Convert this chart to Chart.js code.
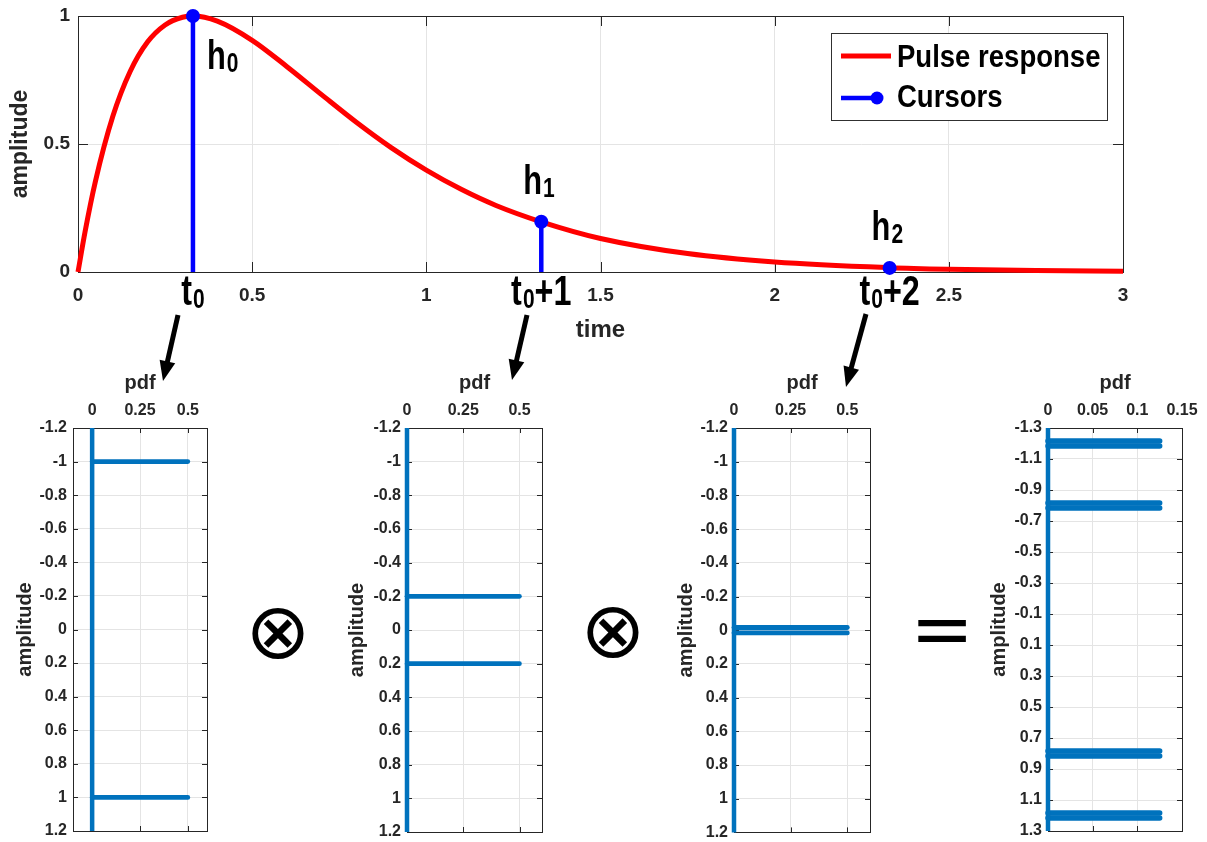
<!DOCTYPE html>
<html><head><meta charset="utf-8">
<script src="https://cdn.jsdelivr.net/npm/chart.js@4.4.0/dist/chart.umd.min.js"></script>
<style>
html,body{margin:0;padding:0;background:#fff;width:1207px;height:842px;overflow:hidden;position:relative;}
canvas{position:absolute;}
.sym{position:absolute;font-family:"DejaVu Sans",sans-serif;color:#000;line-height:1;transform:translate(-50%,-50%);white-space:nowrap;}
svg{position:absolute;left:0;top:0;}
</style></head><body>
<canvas id="topChart" width="1207" height="345" style="left:0;top:0"></canvas>
<canvas id="pdf1" width="225" height="472" style="left:12px;top:370px"></canvas>
<canvas id="pdf2" width="228" height="472" style="left:344px;top:370px"></canvas>
<canvas id="pdf3" width="227" height="472" style="left:673px;top:370px"></canvas>
<canvas id="pdf4" width="221" height="472" style="left:986px;top:370px"></canvas>
<div class="sym" style="left:278px;top:631px;font-size:78px">⊗</div>
<div class="sym" style="left:613px;top:630px;font-size:78px">⊗</div>
<div class="sym" style="left:942px;top:629px;font-size:76px">=</div>
<svg id="arrows" width="1207" height="842"></svg>
<script>
// ---------------- data ----------------
const timeValues  = [0, 0.02, 0.05, 0.1, 0.15, 0.2, 0.25, 0.3, 0.33, 0.4, 0.5, 0.6, 0.7, 0.8, 0.9, 1.0, 1.1, 1.2, 1.33, 1.5, 1.75, 2.0, 2.33, 2.5, 2.75, 3.0];
const pulseValues = [0, 0.155, 0.354, 0.608, 0.784, 0.899, 0.965, 0.995, 1.0, 0.980, 0.905, 0.802, 0.692, 0.584, 0.485, 0.398, 0.323, 0.260, 0.196, 0.131, 0.072, 0.039, 0.017, 0.011, 0.006, 0.003];
const cursorTimes  = [0.33, 1.33, 2.33];
const cursorValues = [1.0, 0.196, 0.016];
const cursorSubs   = ['0', '1', '2'];
const cursorTimeSuffix = ['', '+1', '+2'];
const seriesNames = ['Pulse response', 'Cursors'];

const topXTicks = [0, 0.5, 1, 1.5, 2, 2.5, 3];
const topXLabels = ['0', '0.5', '1', '1.5', '2', '2.5', '3'];
const topYTicks = [0, 0.5, 1];
const topYLabels = ['0', '0.5', '1'];

const pdfAmp1 = [-1, 1];           const pdfProb1 = [0.5, 0.5];
const pdfAmp2 = [-0.2, 0.2];       const pdfProb2 = [0.5, 0.5];
const pdfAmp3 = [-0.016, 0.016];   const pdfProb3 = [0.5, 0.5];
const pdfAmp4 = [-1.216, -1.184, -0.816, -0.784, 0.784, 0.816, 1.184, 1.216];
const pdfProb4 = [0.125, 0.125, 0.125, 0.125, 0.125, 0.125, 0.125, 0.125];

const ampTicksA = [-1.2, -1, -0.8, -0.6, -0.4, -0.2, 0, 0.2, 0.4, 0.6, 0.8, 1, 1.2];
const ampLabelsA = ['-1.2', '-1', '-0.8', '-0.6', '-0.4', '-0.2', '0', '0.2', '0.4', '0.6', '0.8', '1', '1.2'];
const ampTicksB = [-1.3, -1.1, -0.9, -0.7, -0.5, -0.3, -0.1, 0.1, 0.3, 0.5, 0.7, 0.9, 1.1, 1.3];
const ampLabelsB = ['-1.3', '-1.1', '-0.9', '-0.7', '-0.5', '-0.3', '-0.1', '0.1', '0.3', '0.5', '0.7', '0.9', '1.1', '1.3'];
const pdfTicksA = [0, 0.25, 0.5];
const pdfLabelsA = ['0', '0.25', '0.5'];
const pdfTicksB = [0, 0.05, 0.1, 0.15];
const pdfLabelsB = ['0', '0.05', '0.1', '0.15'];

// ---------------- styling ----------------
const FONT = '"Liberation Sans", Arial, Helvetica, sans-serif';
Chart.defaults.font.family = FONT;
Chart.defaults.color = '#262626';
const AXC = '#262626', GRID = '#e4e4e4', PDFBLUE = '#0072BD', NONE = 'rgba(0,0,0,0)';

function condText(ctx, text, x, y, size, sx) {
  ctx.save();
  ctx.font = 'bold ' + size + 'px ' + FONT;
  ctx.textBaseline = 'alphabetic';
  ctx.textAlign = 'left';
  ctx.translate(x, y);
  ctx.scale(sx, 1);
  ctx.fillText(text, 0, 0);
  const w = ctx.measureText(text).width * sx;
  ctx.restore();
  return w;
}
function textW(ctx, text, size, sx) {
  ctx.save(); ctx.font = 'bold ' + size + 'px ' + FONT;
  const w = ctx.measureText(text).width * sx; ctx.restore(); return w;
}

const boxPlugin = {
  id: 'matlabBox',
  beforeDatasetsDraw(chart, args, opts) {
    const {ctx, chartArea: a, scales} = chart;
    const len = opts.len || 6;
    ctx.save();
    ctx.strokeStyle = AXC; ctx.lineWidth = 1;
    ctx.strokeRect(Math.round(a.left) + 0.5, Math.round(a.top) + 0.5, Math.round(a.right - a.left), Math.round(a.bottom - a.top));
    ctx.beginPath();
    scales.x.ticks.forEach(t => {
      const x = Math.round(scales.x.getPixelForValue(t.value)) + 0.5;
      ctx.moveTo(x, a.bottom); ctx.lineTo(x, a.bottom - len);
      ctx.moveTo(x, a.top); ctx.lineTo(x, a.top + len);
    });
    scales.y.ticks.forEach(t => {
      const y = Math.round(scales.y.getPixelForValue(t.value)) + 0.5;
      ctx.moveTo(a.left, y); ctx.lineTo(a.left + len, y);
      ctx.moveTo(a.right, y); ctx.lineTo(a.right - len, y);
    });
    ctx.stroke();
    ctx.restore();
  }
};

const annotPlugin = {
  id: 'annot',
  afterDraw(chart) {
    const {ctx, chartArea: a, scales} = chart;
    const xs = scales.x, ys = scales.y;
    ctx.save();
    ctx.fillStyle = '#000';
    cursorTimes.forEach((t, i) => {
      const px = xs.getPixelForValue(t), py = ys.getPixelForValue(cursorValues[i]);
      let lx, by;
      if (i === 0) { lx = px + 14; by = py + 53; } else { lx = px - 18; by = py - 28; }
      const w = condText(ctx, 'h', lx, by, 40, 0.77);
      condText(ctx, cursorSubs[i], lx + w + 1, by + 3, 28, 0.75);
      const w1 = textW(ctx, 't', 42, 0.77), w2 = textW(ctx, '0', 28, 0.75), w3 = textW(ctx, cursorTimeSuffix[i], 42, 0.77);
      const tot = w1 + 1 + w2 + w3;
      const sx = px - tot / 2;
      const tb = a.bottom + 33;
      condText(ctx, 't', sx, tb, 42, 0.77);
      condText(ctx, '0', sx + w1 + 1, tb + 3, 28, 0.75);
      if (cursorTimeSuffix[i]) condText(ctx, cursorTimeSuffix[i], sx + w1 + 1 + w2, tb, 42, 0.77);
    });
    // legend box
    const W = 276, H = 87;
    const L = Math.round(a.right) - 16 - W, T = Math.round(a.top) + 17;
    ctx.fillStyle = '#fff';
    ctx.fillRect(L, T, W, H);
    ctx.strokeStyle = '#303030'; ctx.lineWidth = 1;
    ctx.strokeRect(L + 0.5, T + 0.5, W, H);
    const ds = chart.data.datasets;
    ctx.lineCap = 'butt';
    ctx.strokeStyle = ds[0].borderColor; ctx.lineWidth = 5;
    ctx.beginPath(); ctx.moveTo(L + 10, T + 23); ctx.lineTo(L + 60, T + 23); ctx.stroke();
    ctx.fillStyle = '#000';
    condText(ctx, ds[0].label, L + 66, T + 34, 32, 0.86);
    ctx.strokeStyle = ds[1].borderColor; ctx.lineWidth = 4.5;
    ctx.beginPath(); ctx.moveTo(L + 10, T + 65); ctx.lineTo(L + 46, T + 65); ctx.stroke();
    ctx.fillStyle = ds[1].borderColor;
    ctx.beginPath(); ctx.arc(L + 46, T + 65, 6.5, 0, Math.PI * 2); ctx.fill();
    ctx.fillStyle = '#000';
    condText(ctx, ds[1].label, L + 66, T + 74, 32, 0.86);
    ctx.restore();
  }
};

// ---------------- top chart ----------------
const pulseData = timeValues.map((t, i) => ({x: t, y: pulseValues[i]}));
const cursorData = [];
cursorTimes.forEach((t, i) => {
  cursorData.push({x: t, y: 0}, {x: t, y: cursorValues[i]}, {x: t, y: null});
});

new Chart(document.getElementById('topChart'), {
  type: 'scatter',
  data: {
    datasets: [
      {label: seriesNames[0], data: pulseData, showLine: true, borderColor: '#ff0000', borderWidth: 5,
       pointRadius: 0, cubicInterpolationMode: 'monotone', order: 1, clip: false},
      {label: seriesNames[1], data: cursorData, showLine: true, borderColor: '#0000ff', backgroundColor: '#0000ff',
       borderWidth: 4.5, spanGaps: false, tension: 0, order: 0, clip: false,
       pointRadius: c => (c.dataIndex % 3 === 1 ? 7 : 0), pointBorderWidth: 0, pointBackgroundColor: '#0000ff'}
    ]
  },
  options: {
    responsive: false, animation: false, events: [],
    layout: {padding: {top: 16, right: 84, left: 0, bottom: 0}},
    plugins: {legend: {display: false}, tooltip: {enabled: false}, matlabBox: {len: 10}},
    scales: {
      x: {type: 'linear', min: 0, max: 3,
          afterBuildTicks: s => { s.ticks = topXTicks.map(v => ({value: v})); },
          afterFit: s => { s.height = 73; },
          ticks: {callback: (v, i) => topXLabels[i], font: {size: 19, weight: 'bold'}, color: AXC, padding: 0, autoSkip: false, maxRotation: 0},
          grid: {color: GRID, drawTicks: true, tickLength: 12, tickColor: NONE}, border: {display: false},
          title: {display: true, text: 'time', font: {size: 24, weight: 'bold'}, color: AXC, padding: {top: 1, bottom: 0}}},
      y: {type: 'linear', min: 0, max: 1,
          afterBuildTicks: s => { s.ticks = topYTicks.map(v => ({value: v})); },
          afterFit: s => { s.width = 78; },
          ticks: {callback: (v, i) => topYLabels[i], font: {size: 19, weight: 'bold'}, color: AXC, padding: 0, autoSkip: false},
          grid: {color: GRID, drawTicks: true, tickLength: 8, tickColor: NONE}, border: {display: false},
          title: {display: true, text: 'amplitude', font: {size: 23, weight: 'bold'}, color: AXC, padding: {top: 7, bottom: 0}}}
    }
  },
  plugins: [boxPlugin, annotPlugin]
});

// ---------------- pdf panels ----------------
function pdfChart(id, amps, probs, xt, xl, xmin, xmax, yt, yl, axisW, bottomPad, rightPad, lw) {
  const datasets = [{
    data: [{x: 0, y: yt[0]}, {x: 0, y: yt[yt.length - 1]}],
    showLine: true, borderColor: PDFBLUE, borderWidth: 4.5, pointRadius: 0, clip: false, borderCapStyle: 'butt'
  }];
  amps.forEach((a, i) => {
    datasets.push({data: [{x: 0, y: a}, {x: probs[i], y: a}], showLine: true, borderColor: PDFBLUE,
      borderWidth: lw, pointRadius: 0, clip: false, borderCapStyle: 'round'});
  });
  new Chart(document.getElementById(id), {
    type: 'scatter',
    data: {datasets},
    options: {
      responsive: false, animation: false, events: [],
      layout: {padding: {top: 0, right: rightPad, left: 0, bottom: bottomPad}},
      plugins: {legend: {display: false}, tooltip: {enabled: false}, matlabBox: {len: 5}},
      scales: {
        x: {type: 'linear', position: 'top', min: xmin, max: xmax,
            afterBuildTicks: s => { s.ticks = xt.map(v => ({value: v})); },
            afterFit: s => { s.height = 58; },
            ticks: {callback: (v, i) => xl[i], font: {size: 16, weight: 'bold'}, color: AXC, padding: 0, autoSkip: false, maxRotation: 0},
            grid: {color: GRID, drawTicks: true, tickLength: 8, tickColor: NONE}, border: {display: false},
            title: {display: true, text: 'pdf', font: {size: 20, weight: 'bold'}, color: AXC, padding: {top: 1, bottom: 0}}},
        y: {type: 'linear', reverse: true, min: yt[0], max: yt[yt.length - 1],
            afterBuildTicks: s => { s.ticks = yt.map(v => ({value: v})); },
            afterFit: s => { s.width = axisW; },
            ticks: {callback: (v, i) => yl[i], font: {size: 16, weight: 'bold'}, color: AXC, padding: 0, autoSkip: false},
            grid: {color: GRID, drawTicks: true, tickLength: 6, tickColor: NONE}, border: {display: false},
            title: {display: true, text: 'amplitude', font: {size: 20, weight: 'bold'}, color: AXC, padding: {top: 1, bottom: 0}}}
      }
    },
    plugins: [boxPlugin]
  });
}
pdfChart('pdf1', pdfAmp1, pdfProb1, pdfTicksA, pdfLabelsA, -0.1, 0.6, ampTicksA, ampLabelsA, 61, 11, 30, 4.6);
pdfChart('pdf2', pdfAmp2, pdfProb2, pdfTicksA, pdfLabelsA, 0, 0.6, ampTicksA, ampLabelsA, 63, 10, 30, 4.6);
pdfChart('pdf3', pdfAmp3, pdfProb3, pdfTicksA, pdfLabelsA, 0, 0.6, ampTicksA, ampLabelsA, 61, 9, 30, 4.8);
pdfChart('pdf4', pdfAmp4, pdfProb4, pdfTicksB, pdfLabelsB, 0, 0.15, ampTicksB, ampLabelsB, 62, 11, 25, 5.5);

// ---------------- arrows (decoration) ----------------
const arrowLayout = [[178, 315, 163, 381], [527, 315, 512, 380], [866, 314, 846, 387]];
const svg = document.getElementById('arrows');
const NS = 'http://www.w3.org/2000/svg';
arrowLayout.forEach(([x1, y1, x2, y2]) => {
  const dx = x2 - x1, dy = y2 - y1, len = Math.hypot(dx, dy);
  const ux = dx / len, uy = dy / len, nx = -uy, ny = ux;
  const hl = 20, hw = 8;
  const bx = x2 - ux * hl, by = y2 - uy * hl;
  const line = document.createElementNS(NS, 'line');
  line.setAttribute('x1', x1); line.setAttribute('y1', y1);
  line.setAttribute('x2', bx + ux * 2); line.setAttribute('y2', by + uy * 2);
  line.setAttribute('stroke', '#000'); line.setAttribute('stroke-width', '5');
  svg.appendChild(line);
  const poly = document.createElementNS(NS, 'polygon');
  poly.setAttribute('points', `${x2},${y2} ${bx + nx * hw},${by + ny * hw} ${bx - nx * hw},${by - ny * hw}`);
  poly.setAttribute('fill', '#000');
  svg.appendChild(poly);
});
</script>
</body></html>
